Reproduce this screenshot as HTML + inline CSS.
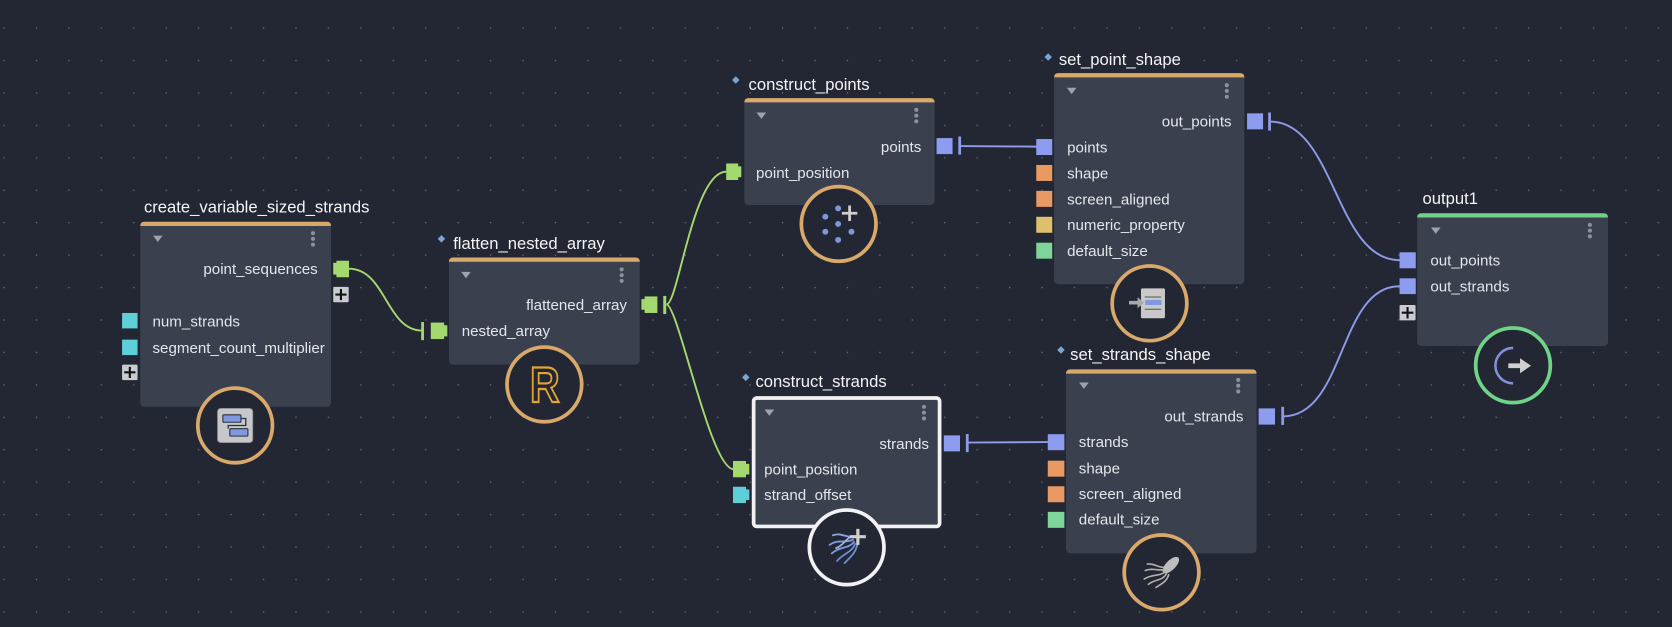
<!DOCTYPE html>
<html><head><meta charset="utf-8">
<style>
html,body{margin:0;padding:0;background:#222733;overflow:hidden;}
svg{display:block;}
text{font-family:"Liberation Sans",Arial,sans-serif;}
.l{font-size:14.2px;fill:#e4e6ea;}
.t{font-size:15.6px;fill:#f4f4f4;}
</style></head><body>
<svg width="1672" height="627" viewBox="0 0 1568 588" preserveAspectRatio="none" xmlns="http://www.w3.org/2000/svg">
<defs>
<pattern id="g" x="0" y="0" width="30.42" height="30.42" patternUnits="userSpaceOnUse">
<rect x="3.2" y="25.7" width="1.2" height="1.2" fill="#6a707c"/>
</pattern>
</defs>
<rect width="1568" height="588" fill="#222733"/>
<rect width="1568" height="588" fill="url(#g)"/>

<!-- connectors -->
<g fill="none" stroke-width="1.8">
<path d="M327,252 C362,252 362,310 396,310" stroke="#a6d76e"/>
<path d="M625,285.5 C636,285.5 650,161 681,161" stroke="#a6d76e"/>
<path d="M625,285.5 C636,285.5 666,440 688,440" stroke="#a6d76e"/>
<path d="M900,137 L972,137.5" stroke="#8f9ae8"/>
<path d="M1191,114 C1252,114 1252,244 1312.5,244" stroke="#8f9ae8"/>
<path d="M907,415 L983,414.6" stroke="#8f9ae8"/>
<path d="M1203,390.5 C1262,390.5 1255,268.4 1312.5,268.4" stroke="#8f9ae8"/>
</g>
<!-- bars -->
<rect x="395" y="302" width="2.6" height="17" fill="#a6d76e"/>
<rect x="622" y="277.5" width="2.8" height="17" fill="#a6d76e"/>
<rect x="898.7" y="128" width="2.6" height="17" fill="#8f9ae8"/>
<rect x="1189.3" y="105.5" width="2.6" height="17" fill="#8f9ae8"/>
<rect x="905.8" y="407" width="2.6" height="17" fill="#8f9ae8"/>
<rect x="1201.6" y="381.5" width="2.6" height="17" fill="#8f9ae8"/>

<!-- Node A -->
<text class="t" x="135" y="199.5">create_variable_sized_strands</text>
<rect x="131.5" y="208" width="179" height="173.5" rx="4" fill="#3a404e"/>
<path d="M131.5,212 Q131.5,208 135.5,208 H306.5 Q310.5,208 310.5,212 Z" fill="#d9a96c"/>
<path d="M143.5,221 h9 l-4.5,6 z" fill="#9ea3ab"/>
<g fill="#8c919a"><circle cx="293.5" cy="218.6" r="1.9"/><circle cx="293.5" cy="224" r="1.9"/><circle cx="293.5" cy="229.4" r="1.9"/></g>
<text class="l" x="298" y="257" text-anchor="end">point_sequences</text>
<text class="l" x="143" y="306">num_strands</text>
<text class="l" x="143" y="331">segment_count_multiplier</text>
<rect x="312.5" y="246.5" width="3.2" height="11" fill="#a3d96f"/>
<rect x="315.5" y="244.5" width="11.8" height="15.5" fill="#a3d96f"/>
<rect x="312.5" y="269" width="14.5" height="14.5" rx="1" fill="#c8cbd0"/>
<path d="M314.5,276.2 h10.5 M319.75,271 v10.5" stroke="#111" stroke-width="2"/>
<rect x="114.5" y="293.5" width="14.5" height="14.5" fill="#5ecfd9"/>
<rect x="114.5" y="318.5" width="14.5" height="14.5" fill="#5ecfd9"/>
<rect x="114.5" y="342" width="14.5" height="14.5" rx="1" fill="#c8cbd0"/>
<path d="M116.5,349.2 h10.5 M121.75,344 v10.5" stroke="#111" stroke-width="2"/>
<circle cx="220.5" cy="399" r="35" fill="#222733" stroke="#d9a96c" stroke-width="3.5"/>
<rect x="204" y="383" width="33" height="32" rx="3" fill="#c5c7ca" stroke="#8a8d92" stroke-width="0.8"/>
<path d="M226,392.5 H230.5 V399 H214 V402" fill="none" stroke="#2a2f3a" stroke-width="1.2"/>
<rect x="209" y="389" width="17" height="7" rx="1" fill="#7f99e0" stroke="#2a2f3a" stroke-width="1"/>
<rect x="215.5" y="402" width="17" height="7" rx="1" fill="#7f99e0" stroke="#2a2f3a" stroke-width="1"/>

<!-- Node B -->
<path d="M414,220.5 l3.5,3.5 l-3.5,3.5 l-3.5,-3.5 z" fill="#7aa6d6"/>
<text class="t" x="425" y="233.5">flatten_nested_array</text>
<rect x="421" y="241.5" width="179" height="100.5" rx="4" fill="#3a404e"/>
<path d="M421,245.5 Q421,241.5 425,241.5 H596 Q600,241.5 600,245.5 Z" fill="#d9a96c"/>
<path d="M432.5,255 h9 l-4.5,6 z" fill="#9ea3ab"/>
<g fill="#8c919a"><circle cx="583" cy="252.6" r="1.9"/><circle cx="583" cy="258" r="1.9"/><circle cx="583" cy="263.4" r="1.9"/></g>
<text class="l" x="588" y="290.5" text-anchor="end">flattened_array</text>
<text class="l" x="433" y="315">nested_array</text>
<rect x="601.5" y="280.5" width="3.2" height="10" fill="#a3d96f"/>
<rect x="604.5" y="278" width="12" height="15.5" fill="#a3d96f"/>
<rect x="404" y="302.5" width="12.5" height="15.5" fill="#a3d96f"/>
<rect x="416.3" y="305" width="3.2" height="10.5" fill="#a3d96f"/>
<circle cx="510.5" cy="360.5" r="35" fill="#222733" stroke="#d9a96c" stroke-width="3.5"/>
<text x="0" y="0" font-size="47" font-weight="bold" text-anchor="middle" fill="none" stroke="#e3a436" stroke-width="2" transform="translate(511,377) scale(0.82,1)" style="font-family:'Liberation Sans',Arial,sans-serif">R</text>

<!-- Node C -->
<path d="M690,71.5 l3.5,3.5 l-3.5,3.5 l-3.5,-3.5 z" fill="#7aa6d6"/>
<text class="t" x="702" y="84.5">construct_points</text>
<rect x="698" y="92" width="178.5" height="100.3" rx="4" fill="#3a404e"/>
<path d="M698,96 Q698,92 702,92 H872.5 Q876.5,92 876.5,96 Z" fill="#d9a96c"/>
<path d="M709.5,105.5 h9 l-4.5,6 z" fill="#9ea3ab"/>
<g fill="#8c919a"><circle cx="859.3" cy="103" r="1.9"/><circle cx="859.3" cy="108.4" r="1.9"/><circle cx="859.3" cy="113.8" r="1.9"/></g>
<text class="l" x="864" y="142.5" text-anchor="end">points</text>
<text class="l" x="709" y="167">point_position</text>
<rect x="878.3" y="129.5" width="15" height="15" fill="#8e9cf0"/>
<rect x="681" y="153.3" width="11.3" height="15.5" fill="#a3d96f"/>
<rect x="692" y="156" width="3.2" height="10.2" fill="#a3d96f"/>
<circle cx="786.5" cy="210" r="35" fill="#222733" stroke="#d9a96c" stroke-width="3.5"/>
<g fill="#7f97d8"><circle cx="786" cy="195.4" r="2.8"/><circle cx="774" cy="203.2" r="2.8"/><circle cx="786" cy="210" r="2.8"/><circle cx="774" cy="217.3" r="2.8"/><circle cx="798.5" cy="217.3" r="2.8"/><circle cx="786" cy="225" r="2.8"/></g>
<path d="M789.5,200 h14.5 M796.75,192.7 v14.5" stroke="#d0d0d0" stroke-width="2.6"/>

<!-- Node D -->
<path d="M983,50 l3.5,3.5 l-3.5,3.5 l-3.5,-3.5 z" fill="#7aa6d6"/>
<text class="t" x="993" y="61">set_point_shape</text>
<rect x="988.5" y="68.6" width="178.5" height="198" rx="4" fill="#3a404e"/>
<path d="M988.5,72.6 Q988.5,68.6 992.5,68.6 H1163 Q1167,68.6 1167,72.6 Z" fill="#d9a96c"/>
<path d="M1000.5,82.3 h9 l-4.5,6 z" fill="#9ea3ab"/>
<g fill="#8c919a"><circle cx="1150.5" cy="79.9" r="1.9"/><circle cx="1150.5" cy="85.3" r="1.9"/><circle cx="1150.5" cy="90.7" r="1.9"/></g>
<text class="l" x="1155" y="118.5" text-anchor="end">out_points</text>
<rect x="1169.5" y="106.3" width="15" height="15" fill="#8e9cf0"/>
<text class="l" x="1000.7" y="143">points</text>
<text class="l" x="1000.7" y="167.3">shape</text>
<text class="l" x="1000.7" y="191.6">screen_aligned</text>
<text class="l" x="1000.7" y="215.9">numeric_property</text>
<text class="l" x="1000.7" y="240.2">default_size</text>
<rect x="971.8" y="130.4" width="15" height="15" fill="#8e9cf0"/>
<rect x="971.8" y="154.7" width="15" height="15" fill="#e99a62"/>
<rect x="971.8" y="179" width="15" height="15" fill="#e99a62"/>
<rect x="971.8" y="203.3" width="15" height="15" fill="#dfc06a"/>
<rect x="971.8" y="227.6" width="15" height="15" fill="#7fd49b"/>
<circle cx="1078" cy="284.5" r="35" fill="#222733" stroke="#d9a96c" stroke-width="3.5"/>
<rect x="1070" y="270.4" width="22.5" height="28" rx="1.5" fill="#c9c9c9"/>
<path d="M1073.5,278.5 h15.5 M1073.5,290 h15.5" stroke="#555" stroke-width="1"/>
<rect x="1074" y="281.3" width="15.3" height="4.7" fill="#7f99e0"/>
<path d="M1058.8,282.2 h8 v-3.5 l6,5.2 l-6,5.2 v-3.5 h-8 z" fill="#a9a9a9"/>

<!-- Node E output1 -->
<text class="t" x="1334" y="191.5">output1</text>
<rect x="1329" y="200" width="179" height="124.5" rx="4" fill="#3a404e"/>
<path d="M1329,204 Q1329,200 1333,200 H1504 Q1508,200 1508,204 Z" fill="#70cf88"/>
<path d="M1342,213.3 h9 l-4.5,6 z" fill="#9ea3ab"/>
<g fill="#8c919a"><circle cx="1491" cy="210.9" r="1.9"/><circle cx="1491" cy="216.3" r="1.9"/><circle cx="1491" cy="221.7" r="1.9"/></g>
<text class="l" x="1341.4" y="249">out_points</text>
<text class="l" x="1341.4" y="273.4">out_strands</text>
<rect x="1312.5" y="236.6" width="15.2" height="15" fill="#8e9cf0"/>
<rect x="1312.5" y="261" width="15.2" height="14.8" fill="#8e9cf0"/>
<rect x="1312.5" y="286" width="15" height="14.5" rx="1" fill="#c8cbd0"/>
<path d="M1314.5,293.2 h11 M1320,287.9 v10.8" stroke="#111" stroke-width="2"/>
<circle cx="1418.9" cy="342.6" r="35" fill="#222733" stroke="#6fd488" stroke-width="3.5"/>
<path d="M1419,326.3 A16.6,16.6 0 0 0 1419,359.5" fill="none" stroke="#8190d8" stroke-width="2.4"/>
<path d="M1414.5,340.8 h11 v-4.8 l10.3,7 l-10.3,7 v-4.8 h-11 z" fill="#d0d0d0"/>

<!-- Node F construct_strands -->
<path d="M699.4,350.4 l3.5,3.5 l-3.5,3.5 l-3.5,-3.5 z" fill="#7aa6d6"/>
<text class="t" x="708.5" y="363">construct_strands</text>
<rect x="706.75" y="373.2" width="174.4" height="120.5" rx="3" fill="#3a404e" stroke="#f2f2f2" stroke-width="3.5"/>
<path d="M717,384 h9 l-4.5,6 z" fill="#9ea3ab"/>
<g fill="#8c919a"><circle cx="866.5" cy="381.6" r="1.9"/><circle cx="866.5" cy="387" r="1.9"/><circle cx="866.5" cy="392.4" r="1.9"/></g>
<text class="l" x="871.2" y="421" text-anchor="end">strands</text>
<text class="l" x="716.6" y="445">point_position</text>
<text class="l" x="716.6" y="469">strand_offset</text>
<rect x="885.1" y="408.3" width="15.2" height="15" fill="#8e9cf0"/>
<rect x="687.4" y="432.3" width="12.2" height="15.3" fill="#a3d96f"/>
<rect x="699.5" y="435" width="3.2" height="10" fill="#a3d96f"/>
<rect x="687.4" y="456.5" width="12.2" height="15.3" fill="#5ecfd9"/>
<rect x="699.5" y="459" width="3.2" height="10" fill="#5ecfd9"/>
<circle cx="794" cy="513.3" r="35" fill="#222733" stroke="#f2f2f2" stroke-width="3.5"/>
<g fill="none" stroke-width="1.7" stroke-linecap="round">
<path d="M800,503 C794,505 789,499 781,502" stroke="#8aa4e6"/>
<path d="M800,506 C793,510 786,505 778,511" stroke="#7d9be0"/>
<path d="M801,508 C796,515 788,512 780,519" stroke="#7d9be0"/>
<path d="M802,510 C799,518 791,519 785,526" stroke="#6f8ed6"/>
<path d="M804,510 C803,518 797,523 792,528" stroke="#6f8ed6"/>
<path d="M798,503 C792,507 790,512 784,514" stroke="#9fb3e6"/>
</g>
<path d="M797,503.3 H812 M804.5,496 V511" stroke="#cfcfcf" stroke-width="3"/>

<!-- Node G set_strands_shape -->
<path d="M995,324.7 l3.5,3.5 l-3.5,3.5 l-3.5,-3.5 z" fill="#7aa6d6"/>
<text class="t" x="1003.6" y="337.5">set_strands_shape</text>
<rect x="999.7" y="346.4" width="178.7" height="172.5" rx="4" fill="#3a404e"/>
<path d="M999.7,350.4 Q999.7,346.4 1003.7,346.4 H1174.4 Q1178.4,346.4 1178.4,350.4 Z" fill="#d9a96c"/>
<path d="M1012,358.7 h9 l-4.5,6 z" fill="#9ea3ab"/>
<g fill="#8c919a"><circle cx="1161.2" cy="356.3" r="1.9"/><circle cx="1161.2" cy="361.7" r="1.9"/><circle cx="1161.2" cy="367.1" r="1.9"/></g>
<text class="l" x="1166.1" y="395.5" text-anchor="end">out_strands</text>
<rect x="1180.3" y="383" width="15.4" height="15.2" fill="#8e9cf0"/>
<text class="l" x="1011.7" y="419.2">strands</text>
<text class="l" x="1011.7" y="443.9">shape</text>
<text class="l" x="1011.7" y="468">screen_aligned</text>
<text class="l" x="1011.7" y="492">default_size</text>
<rect x="982.6" y="407.2" width="15.6" height="15" fill="#8e9cf0"/>
<rect x="982.6" y="432" width="15.6" height="15" fill="#e99a62"/>
<rect x="982.6" y="456" width="15.6" height="15" fill="#e99a62"/>
<rect x="982.6" y="480" width="15.6" height="15" fill="#7fd49b"/>
<circle cx="1089.3" cy="536.7" r="35" fill="#222733" stroke="#d9a96c" stroke-width="3.5"/>
<ellipse cx="1098" cy="530" rx="10" ry="4.5" transform="rotate(-45 1098 530)" fill="#bdbdbd"/>
<g fill="none" stroke="#b0b0b0" stroke-width="1.5" stroke-linecap="round">
<path d="M1092,534 C1086,536 1082,532 1074,535"/>
<path d="M1093,536 C1087,541 1081,538 1073,543"/>
<path d="M1094,538 C1090,545 1083,543 1077,548"/>
<path d="M1096,539 C1094,546 1088,548 1084,551"/>
<path d="M1091,532 C1085,532 1082,528 1076,529"/>
</g>
</svg>
</body></html>
